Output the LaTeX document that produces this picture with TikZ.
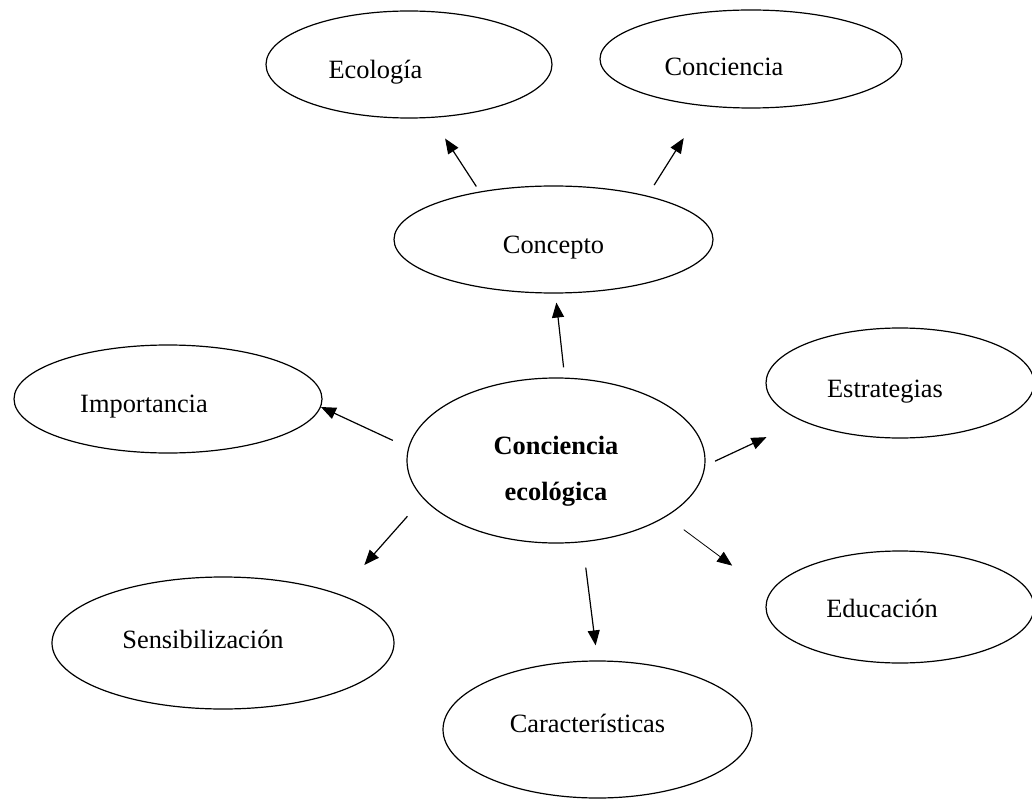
\documentclass[tikz,border=0pt]{standalone}
\usepackage{fontspec}
\setmainfont{Liberation Serif}
\usetikzlibrary{shapes.geometric,arrows.meta}
\tikzset{
  bubble/.style={ellipse,draw,line width=1.2pt,inner sep=0pt,text depth=0pt,font=\fontsize{26.4}{46}\selectfont},
  txtleft/.style={execute at end node={\hspace*{#1}}},
  arr/.style={-{Triangle[length=15pt,width=12pt]},line width=1.2pt},
}
\begin{document}
\begin{tikzpicture}[x=1pt,y=-1pt]
\useasboundingbox (0,0) rectangle (1032,799);
\node[bubble,minimum width=286,minimum height=107,text height=29pt,txtleft=67pt] (ecologia) at (409,64.5) {Ecología};
\node[bubble,minimum width=302,minimum height=98,text height=34pt,txtleft=54pt] (conciencia) at (751,59) {Conciencia};
\node[bubble,minimum width=319,minimum height=107,text height=27.6pt] (concepto) at (553.5,239.5) {Concepto};
\node[bubble,minimum width=308,minimum height=108,text height=27.4pt,txtleft=48pt] (importancia) at (168,399) {Importancia};
\node[bubble,minimum width=298,minimum height=165,align=center,text depth=,font=\fontsize{26.4}{46}\selectfont\bfseries] (cconc) at (556,460.5) {\rule{0pt}{40pt}Conciencia\\ecológica};
\node[bubble,minimum width=268,minimum height=110,text height=28.6pt,txtleft=30pt] (estrategias) at (900,383) {Estrategias};
\node[bubble,minimum width=268,minimum height=112,text height=21.4pt,txtleft=36pt] (educacion) at (900,607) {Educación};
\node[bubble,minimum width=342,minimum height=132,text height=10.6pt,txtleft=40pt] (sensibilizacion) at (223,643) {Sensibilización};
\node[bubble,minimum width=309,minimum height=137,text height=6.4pt,txtleft=20pt] (caracteristicas) at (597.5,729.5) {Características};
\draw[arr,shorten <=6pt,shorten >=24.6pt] (concepto.147.4) -- (ecologia.-67.9);
\draw[arr,shorten <=12.5pt,shorten >=37.8pt] (concepto.25.95) -- (conciencia.-135.3);
\draw[arr,shorten <=10.2pt,shorten >=9pt] (cconc.84.4) -- (concepto.-88.35);
\draw[arr,shorten <=17pt] (cconc.175.7) -- (importancia.-3);
\draw[arr,shorten <=10.7pt,shorten >=38.5pt] (cconc.-2.81) -- (estrategias.-159.7);
\draw[arr,line width=0.8pt,shorten <=21.8pt,shorten >=46.4pt] (cconc.-27.53) -- (educacion.174.6);
\draw[arr,shorten <=25.5pt,shorten >=15.1pt] (cconc.-72.38) -- (caracteristicas.90.5);
\draw[arr,shorten <=23.6pt,shorten >=38.6pt] (cconc.-164.6) -- (sensibilizacion.23.17);
\end{tikzpicture}
\end{document}
